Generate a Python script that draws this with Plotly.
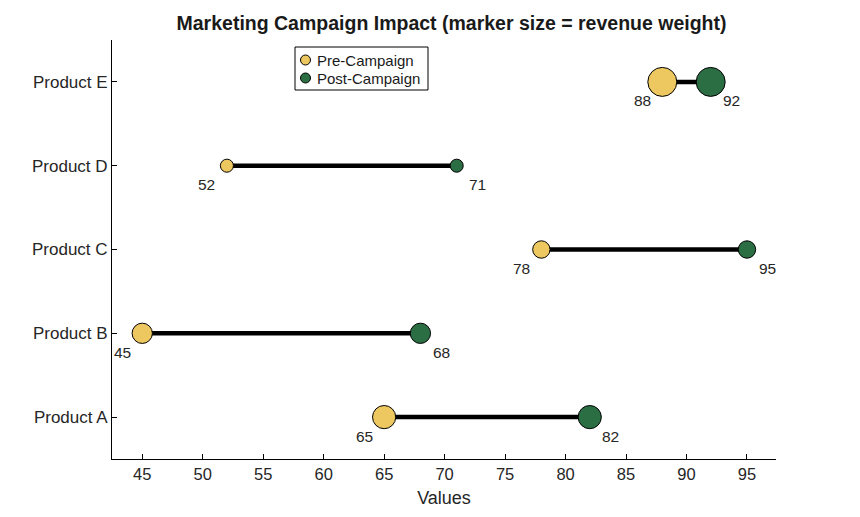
import plotly.graph_objects as go

products = ["Product A", "Product B", "Product C", "Product D", "Product E"]
pre_campaign = [65, 45, 78, 52, 88]
post_campaign = [82, 68, 95, 71, 92]
revenue_weight = [1.6, 1.4, 1.2, 0.9, 2.0]
x_ticks = [45, 50, 55, 60, 65, 70, 75, 80, 85, 90, 95]
series_names = ["Pre-Campaign", "Post-Campaign"]

PRE_COLOR = "#EDC75F"
POST_COLOR = "#2B6E44"
FONT = "Liberation Sans, Arial, Helvetica, sans-serif"
sizes = [w * 14.5 for w in revenue_weight]

W, H = 860, 517
ML, MR, MT, MB = 112, 84, 40, 58
PW, PH = W - ML - MR, H - MT - MB


def px(xp):
    return (xp - ML) / PW


def py(yp):
    return (H - MB - yp) / PH


fig = go.Figure()

# connecting lines
lx, ly = [], []
for p, a, b in zip(products, pre_campaign, post_campaign):
    lx += [a, b, None]
    ly += [p, p, None]
fig.add_trace(go.Scatter(x=lx, y=ly, mode="lines",
                         line=dict(color="black", width=4.5),
                         showlegend=False, hoverinfo="skip"))

fig.add_trace(go.Scatter(x=pre_campaign, y=products, mode="markers",
                         marker=dict(size=sizes, color=PRE_COLOR, opacity=1,
                                     line=dict(color="black", width=1)),
                         name=series_names[0], showlegend=False))
fig.add_trace(go.Scatter(x=post_campaign, y=products, mode="markers",
                         marker=dict(size=sizes, color=POST_COLOR, opacity=1,
                                     line=dict(color="black", width=1)),
                         name=series_names[1], showlegend=False))

annotations = []
for p, a, b in zip(products, pre_campaign, post_campaign):
    annotations.append(dict(x=a, y=p, text=str(a), showarrow=False,
                            xshift=-20, yshift=-19,
                            font=dict(size=15.5, color="#262626", family=FONT)))
    annotations.append(dict(x=b, y=p, text=str(b), showarrow=False,
                            xshift=21, yshift=-19,
                            font=dict(size=15.5, color="#262626", family=FONT)))

# custom legend box
shapes = [dict(type="rect", xref="paper", yref="paper",
               x0=px(295), x1=px(428), y0=py(90), y1=py(47),
               line=dict(color="black", width=1), fillcolor="white", layer="above")]
for i, (nm, col) in enumerate(zip(series_names, [PRE_COLOR, POST_COLOR])):
    cy = 60 + 18 * i
    shapes.append(dict(type="circle", xref="paper", yref="paper",
                       xsizemode="pixel", ysizemode="pixel",
                       xanchor=px(305.5), yanchor=py(cy),
                       x0=-5, x1=5, y0=-5, y1=5,
                       fillcolor=col, line=dict(color="black", width=1), layer="above"))
    annotations.append(dict(x=px(315), y=py(cy), xref="paper", yref="paper",
                            xanchor="left", yanchor="middle", text=nm, showarrow=False,
                            font=dict(size=15, color="#1a1a1a", family=FONT)))

fig.update_layout(
    width=W, height=H,
    margin=dict(l=ML, r=MR, t=MT, b=MB),
    paper_bgcolor="white", plot_bgcolor="white",
    font=dict(family=FONT, size=16, color="#262626"),
    showlegend=False,
    title=dict(text="<b>Marketing Campaign Impact (marker size = revenue weight)</b>",
               x=451.5 / W, xref="container", xanchor="center", y=1 - 23 / H, yanchor="middle",
               font=dict(size=19.5, color="#1a1a1a", family=FONT)),
    xaxis=dict(range=[42.5, 97.4], tickvals=x_ticks, ticks="inside", ticklen=5,
               tickcolor="black", showline=True, linecolor="black", linewidth=1,
               showgrid=False, zeroline=False, mirror=False,
               tickfont=dict(size=16.5, color="#262626"),
               title=dict(text="Values", font=dict(size=18, color="#262626"), standoff=9)),
    yaxis=dict(range=[-0.5, 4.5], type="category", categoryorder="array",
               categoryarray=products, ticks="inside", ticklen=5, tickcolor="black",
               showline=True, linecolor="black", linewidth=1, showgrid=False,
               zeroline=False, tickfont=dict(size=17, color="#262626")),
    annotations=annotations,
    shapes=shapes,
)

fig.write_html("out.html")
